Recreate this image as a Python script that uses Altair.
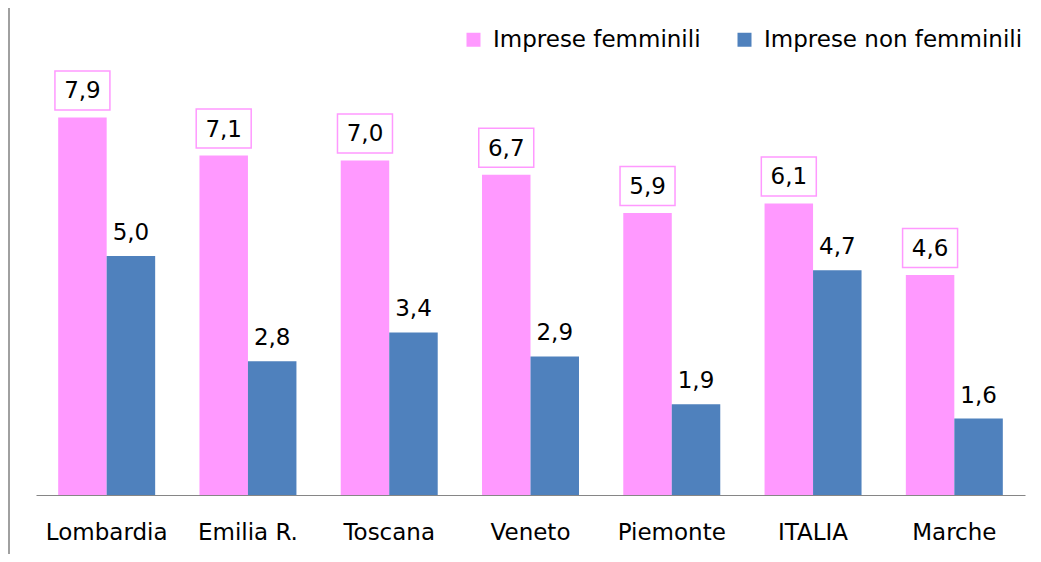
import altair as alt
import pandas as pd

categories = ["Lombardia", "Emilia R.", "Toscana", "Veneto", "Piemonte", "ITALIA", "Marche"]
series_names = ["Imprese femminili", "Imprese non femminili"]
femminili = [7.9, 7.1, 7.0, 6.7, 5.9, 6.1, 4.6]
non_femminili = [5.0, 2.8, 3.4, 2.9, 1.9, 4.7, 1.6]
colors = ["#FF99FF", "#4F81BD"]

rows = []
for c, f, n in zip(categories, femminili, non_femminili):
    rows.append({"regione": c, "serie": series_names[0], "valore": f})
    rows.append({"regione": c, "serie": series_names[1], "valore": n})
df = pd.DataFrame(rows)

FONT = "DejaVu Sans"

x_enc = alt.X("regione:N", sort=categories, title=None,
              scale=alt.Scale(paddingInner=0.3135, paddingOuter=0.157),
              axis=alt.Axis(labelAngle=0, labelFontSize=23, labelFont=FONT, labelColor="#000000",
                            ticks=False, tickSize=0, labelPadding=26, domainColor="#868686",
                            domainWidth=1.2, grid=False))
xo_enc = alt.XOffset("serie:N", sort=series_names, scale=alt.Scale(domain=series_names, paddingInner=0, paddingOuter=0))
y_enc = alt.Y("valore:Q", title=None, scale=alt.Scale(domain=[0, 10], nice=False, zero=True), axis=None)

base = alt.Chart(df).transform_calculate(
    label="replace(format(datum.valore, '.1f'), '.', ',')"
)

bars = base.mark_bar().encode(
    x=x_enc,
    xOffset=xo_enc,
    y=y_enc,
    color=alt.Color("serie:N", sort=series_names,
                    scale=alt.Scale(domain=series_names, range=colors),
                    legend=alt.Legend(title=None, orient="none", legendX=426, legendY=11,
                                      direction="horizontal", symbolType="square", symbolSize=196,
                                      symbolStrokeWidth=0, labelFontSize=23, labelFont=FONT,
                                      labelColor="#000000", labelOffset=8, columnPadding=32,
                                      padding=0, labelLimit=400)),
)

pink = base.transform_filter(alt.datum.serie == series_names[0])
blue = base.transform_filter(alt.datum.serie == series_names[1])

boxes = pink.mark_point(shape="M-1.41,-1H1.41V1H-1.41Z", size=1521, filled=False,
                        stroke="#FF99FF", strokeWidth=1.5, opacity=1, yOffset=-27).encode(
    x=alt.X("regione:N", sort=categories), xOffset=xo_enc, y=y_enc
)

pink_text = pink.mark_text(fontSize=23, font=FONT, color="#000000", dy=-26, baseline="middle").encode(
    x=alt.X("regione:N", sort=categories), xOffset=xo_enc, y=y_enc, text="label:N"
)
blue_text = blue.mark_text(fontSize=23, font=FONT, color="#000000", dy=-23, baseline="middle").encode(
    x=alt.X("regione:N", sort=categories), xOffset=xo_enc, y=y_enc, text="label:N"
)

frame_v = alt.Chart(df).mark_rule(color="#A0A0A0", strokeWidth=1.5).encode(
    x=alt.value(-27), y=alt.value(-9), y2=alt.value(545)
)

chart = alt.layer(bars, boxes, pink_text, blue_text, frame_v).properties(
    width=989, height=478,
    padding={"left": 28, "top": 9, "right": 8, "bottom": 59},
    autosize=alt.AutoSizeParams(type="none"),
    background="#FFFFFF",
).configure_view(stroke=None)

chart.save("out.html", embed_options={"renderer": "svg", "actions": False})
